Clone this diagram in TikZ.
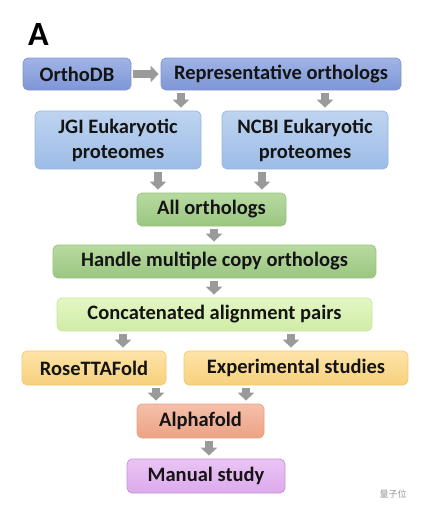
\documentclass[tikz,border=0pt]{standalone}
\usepackage{fontspec}
\setmainfont{Carlito}
\newfontfamily\cjkfont{Noto Sans CJK SC}
\usetikzlibrary{positioning, arrows.meta, calc}

\definecolor{arrowgray}{HTML}{9A9A9A}
\definecolor{inktext}{HTML}{141414}

\tikzset{
  stage/.style={rounded corners=5pt, line width=0.7pt, inner sep=0pt, align=center,
    text=inktext, font=\bfseries\fontsize{20.5}{25}\selectfont},
  flow/.style={draw=arrowgray, line width=7.5pt, -{Triangle[length=8pt,width=16pt]},
    shorten <=3pt, shorten >=3pt},
  dbbox/.style={stage, draw={rgb,255:red,128;green,150;blue,208}, top color={rgb,255:red,160;green,180;blue,230}, bottom color={rgb,255:red,126;green,150;blue,214}},
  protbox/.style={stage, draw={rgb,255:red,150;green,182;blue,226}, top color={rgb,255:red,190;green,212;blue,240}, bottom color={rgb,255:red,156;green,188;blue,230}},
  greenbox/.style={stage, draw={rgb,255:red,150;green,196;blue,128}, top color={rgb,255:red,184;green,218;blue,160}, bottom color={rgb,255:red,154;green,198;blue,128}},
  limebox/.style={stage, draw={rgb,255:red,200;green,230;blue,160}, top color={rgb,255:red,228;green,246;blue,196}, bottom color={rgb,255:red,208;green,236;blue,166}},
  foldbox/.style={stage, draw={rgb,255:red,244;green,200;blue,110}, top color={rgb,255:red,253;green,228;blue,168}, bottom color={rgb,255:red,248;green,208;blue,124}},
  alphabox/.style={stage, draw={rgb,255:red,232;green,160;blue,128}, top color={rgb,255:red,245;green,192;blue,170}, bottom color={rgb,255:red,236;green,162;blue,132}},
  studybox/.style={stage, draw={rgb,255:red,196;green,146;blue,214}, top color={rgb,255:red,234;green,196;blue,244}, bottom color={rgb,255:red,220;green,170;blue,236}},
}

\begin{document}
\begin{tikzpicture}[x=1pt,y=-1pt]
  \useasboundingbox (0,0) rectangle (422,514);

  % Panel letter
  \node[font=\bfseries\fontsize{34}{34}\selectfont, inner sep=0pt] (panel) at (38.5,34) {A};

  % Boxes
  \node[dbbox, minimum width=108pt, minimum height=32pt] (orthodb) at (77,74) {OrthoDB};
  \node[dbbox, minimum width=240pt, minimum height=32pt] (rep) at (281,74) {Representative orthologs};
  \node[protbox, minimum width=166pt, minimum height=58pt] (jgi) at (118,140) {JGI Eukaryotic\\proteomes};
  \node[protbox, minimum width=166pt, minimum height=58pt] (ncbi) at (305,140) {NCBI Eukaryotic\\proteomes};
  \node[greenbox, minimum width=149pt, minimum height=33pt] (allorth) at (211.5,209.5) {All orthologs};
  \node[greenbox, minimum width=323pt, minimum height=33pt] (handle) at (214.5,261.5) {Handle multiple copy orthologs};
  \node[limebox, minimum width=315pt, minimum height=33pt] (concat) at (214.5,314.5) {Concatenated alignment pairs};
  \node[foldbox, minimum width=144pt, minimum height=34pt] (rose) at (94,368) {RoseTTAFold};
  \node[foldbox, minimum width=224pt, minimum height=34pt] (exper) at (296,368) {Experimental studies};
  \node[alphabox, minimum width=127pt, minimum height=34pt] (alpha) at (200.5,421) {Alphafold};
  \node[studybox, minimum width=158pt, minimum height=34pt] (manual) at (206,476) {Manual study};

  % Watermark
  \node[font=\cjkfont\fontsize{9}{9}\selectfont, text=black!40, inner sep=0pt] (mark) at (393,494) {量子位};

  % Arrow columns
  \coordinate (a1) at (181,0);
  \coordinate (a2) at (325,0);
  \coordinate (b1) at (158,0);
  \coordinate (b2) at (262,0);
  \coordinate (c1) at (214,0);
  \coordinate (e1) at (123,0);
  \coordinate (e2) at (291,0);
  \coordinate (f1) at (156,0);
  \coordinate (f2) at (246,0);
  \coordinate (g1) at (209,0);

  % Arrows
  \draw[flow, shorten <=2pt, shorten >=2pt] (orthodb) -- (rep);
  \draw[flow] (rep.south -| a1) -- (jgi.north -| a1);
  \draw[flow] (rep.south -| a2) -- (ncbi.north -| a2);
  \draw[flow] (jgi.south -| b1) -- (allorth.north -| b1);
  \draw[flow] (ncbi.south -| b2) -- (allorth.north -| b2);
  \draw[flow] (allorth.south -| c1) -- (handle.north -| c1);
  \draw[flow] (handle.south -| c1) -- (concat.north -| c1);
  \draw[flow] (concat.south -| e1) -- (rose.north -| e1);
  \draw[flow] (concat.south -| e2) -- (exper.north -| e2);
  \draw[flow] (rose.south -| f1) -- (alpha.north -| f1);
  \draw[flow] (exper.south -| f2) -- (alpha.north -| f2);
  \draw[flow] (alpha.south -| g1) -- (manual.north -| g1);
\end{tikzpicture}
\end{document}
